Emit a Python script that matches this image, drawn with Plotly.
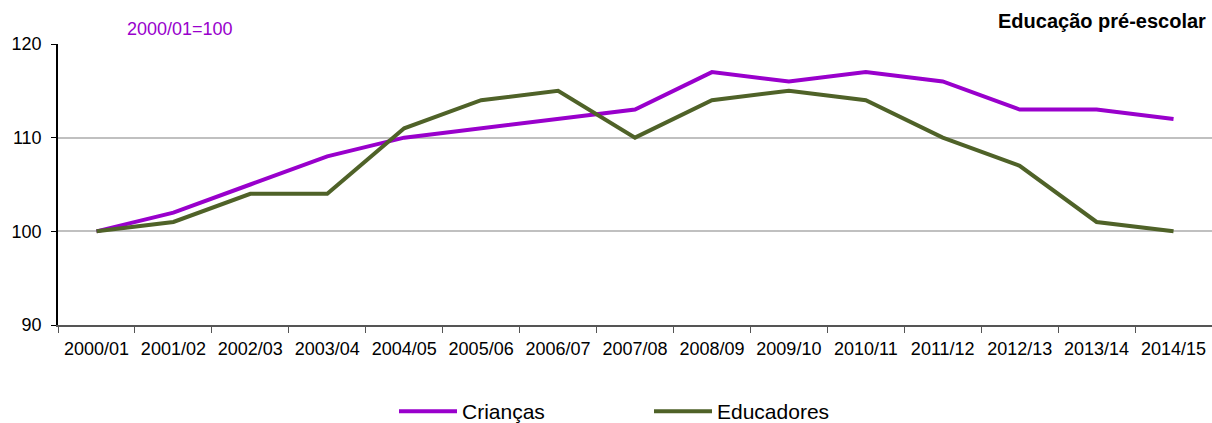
import plotly.graph_objects as go

years = ["2000/01", "2001/02", "2002/03", "2003/04", "2004/05", "2005/06", "2006/07",
         "2007/08", "2008/09", "2009/10", "2010/11", "2011/12", "2012/13", "2013/14", "2014/15"]
criancas = [100, 102, 105, 108, 110, 111, 112, 113, 117, 116, 117, 116, 113, 113, 112]
educadores = [100, 101, 104, 104, 111, 114, 115, 110, 114, 115, 114, 110, 107, 101, 100]

FONT = "Liberation Sans, Arial, sans-serif"

fig = go.Figure()
fig.add_trace(go.Scatter(x=years, y=criancas, mode="lines", name="Crianças",
                         line=dict(color="#9900CC", width=4)))
fig.add_trace(go.Scatter(x=years, y=educadores, mode="lines", name="Educadores",
                         line=dict(color="#4F6228", width=4)))

fig.update_layout(
    width=1212, height=423,
    margin=dict(l=58, r=0, t=44, b=98, autoexpand=False),
    paper_bgcolor="white", plot_bgcolor="white",
    font=dict(family=FONT, size=18, color="black"),
    showlegend=True,
    legend=dict(orientation="h", x=(394 - 58) / 1154, xanchor="left",
                yref="container", y=(423 - 391) / 423, yanchor="top",
                font=dict(size=21), itemwidth=58, tracegroupgap=0,
                entrywidth=182),
    xaxis=dict(type="category", range=[-0.5, 14.5], tickson="boundaries",
               ticks="outside", ticklen=6, tickcolor="#555555",
               showline=True, linecolor="#555555", linewidth=1.5,
               showgrid=False, tickfont=dict(size=18), ticklabelstandoff=7),
    yaxis=dict(range=[90, 120], tickvals=[90, 100, 110, 120],
               ticks="outside", ticklen=5, tickcolor="black",
               showline=True, linecolor="black", linewidth=1.5,
               showgrid=True, gridcolor="#C0C0C0", gridwidth=1.5,
               zeroline=False, tickfont=dict(size=18), ticklabelstandoff=6),
)

fig.add_annotation(text="2000/01=100", xref="paper", yref="paper", x=(125 - 58) / 1154, y=1.0,
                   xanchor="left", yanchor="bottom", yshift=3, showarrow=False,
                   font=dict(size=18, color="#9900CC"))
fig.add_annotation(text="<b>Educação pré-escolar</b>", xref="paper", yref="paper",
                   x=1.0, xshift=-4, y=1.0, yshift=10, xanchor="right", yanchor="bottom",
                   showarrow=False, font=dict(size=20, color="black"))

fig.write_html("out.html", config={"displayModeBar": False},
               post_script="document.body.style.margin='0';")
